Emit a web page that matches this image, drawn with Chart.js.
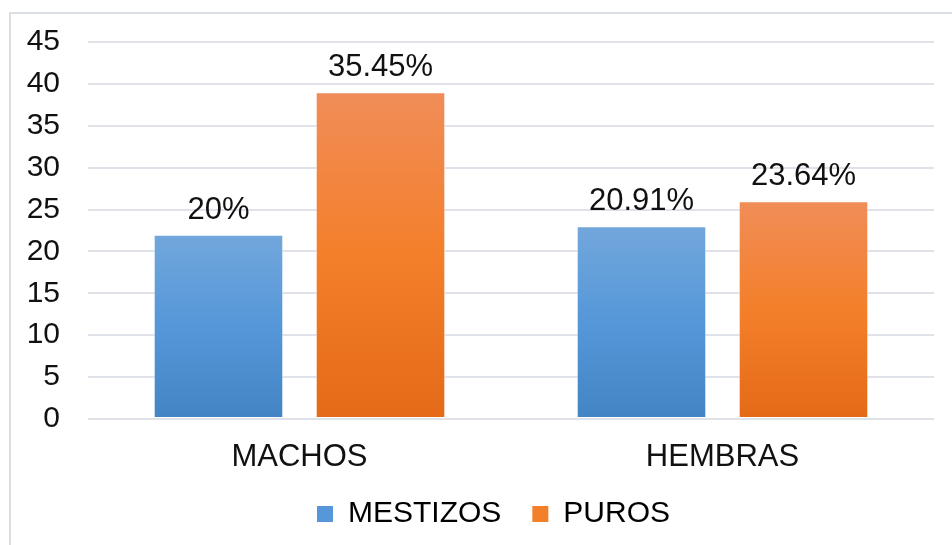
<!DOCTYPE html>
<html>
<head>
<meta charset="utf-8">
<script src="https://cdn.jsdelivr.net/npm/chart.js@4/dist/chart.umd.min.js"></script>
<style>
  html, body { margin: 0; padding: 0; background: #fff; }
  #wrap { position: relative; width: 952px; height: 545px; }
</style>
</head>
<body>
<div id="wrap"><canvas id="grafico" width="952" height="545"></canvas></div>
<script>
// Datos
const CATEGORIAS = ['MACHOS', 'HEMBRAS'];
const MESTIZOS = [22, 23];
const PUROS = [39, 26];
const ETIQ_MESTIZOS = ['20%', '20.91%'];
const ETIQ_PUROS = ['35.45%', '23.64%'];
const TICKS_Y = [0, 5, 10, 15, 20, 25, 30, 35, 40, 45];

const FUENTE = "'Liberation Sans', Arial, sans-serif";

// degradado vertical por barra (arriba claro, abajo más oscuro)
function degradado(paradas) {
    return (ctx) => {
        const chart = ctx.chart;
        if (!chart.chartArea || ctx.type !== 'data') return paradas[1];
        const y = chart.scales.y;
        const top = y.getPixelForValue(ctx.raw);
        const bottom = y.getPixelForValue(0);
        const g = chart.ctx.createLinearGradient(0, top, 0, bottom);
        g.addColorStop(0, paradas[0]);
        g.addColorStop(0.5, paradas[1]);
        g.addColorStop(1, paradas[2]);
        return g;
    };
}

// marco gris claro como en el original (borde superior e izquierdo)
const marco = {
    id: 'marco',
    beforeDraw(chart) {
        const c = chart.ctx;
        c.save();
        c.strokeStyle = '#dadee5';
        c.lineWidth = 2;
        c.beginPath();
        c.moveTo(10, chart.height);
        c.lineTo(10, 13);
        c.lineTo(chart.width, 13);
        c.stroke();
        c.restore();
    },
};

// En el original el marco sigue fuera de la imagen, así que la leyenda
// queda centrada algo más a la derecha que el canvas.
const correrLeyenda = {
    id: 'correrLeyenda',
    afterLayout(chart) {
        if (chart.legend) chart.legend.left += 53;
    },
};

// etiquetas de porcentaje encima de cada barra
const etiquetas = {
    id: 'etiquetas',
    afterDatasetsDraw(chart) {
        const c = chart.ctx;
        c.save();
        c.font = `31px ${FUENTE}`;
        c.fillStyle = '#111';
        c.textAlign = 'center';
        c.textBaseline = 'alphabetic';
        chart.data.datasets.forEach((ds, i) => {
            chart.getDatasetMeta(i).data.forEach((bar, j) => {
                c.fillText(ds.etiquetas[j], bar.x, bar.y - 16);
            });
        });
        c.restore();
    },
};

new Chart(document.getElementById('grafico'), {
    type: 'bar',
    data: {
        labels: CATEGORIAS,
        datasets: [
            {
                label: 'MESTIZOS',
                data: MESTIZOS,
                etiquetas: ETIQ_MESTIZOS,
                backgroundColor: degradado(['#72a7dc', '#5597d8', '#4384c4']),
                borderColor: 'rgba(255,255,255,0.6)',
                borderWidth: 1,
                borderSkipped: false,
            },
            {
                label: 'PUROS',
                data: PUROS,
                etiquetas: ETIQ_PUROS,
                backgroundColor: degradado(['#f08d58', '#f47f2a', '#e46a18']),
                borderColor: 'rgba(255,255,255,0.6)',
                borderWidth: 1,
                borderSkipped: false,
            },
        ],
    },
    options: {
        responsive: false,
        animation: false,
        devicePixelRatio: 1,
        categoryPercentage: 0.766,
        barPercentage: 0.8,
        layout: { padding: { top: 42, right: 18, bottom: 6, left: 0 } },
        plugins: {
            legend: {
                display: true,
                position: 'bottom',
                labels: {
                    boxWidth: 16,
                    boxHeight: 16,
                    padding: 31,
                    color: '#111',
                    font: { family: FUENTE, size: 30 },
                    generateLabels: (chart) => chart.data.datasets.map((ds, i) => ({
                        text: ds.label,
                        fillStyle: i === 0 ? '#5597d8' : '#f47f2a',
                        strokeStyle: 'transparent',
                        lineWidth: 0,
                        datasetIndex: i,
                    })),
                },
            },
            tooltip: { enabled: false },
        },
        scales: {
            x: {
                grid: { display: false },
                border: { display: false },
                ticks: { color: '#111', padding: 12, font: { family: FUENTE, size: 31 } },
                afterFit: (scale) => { scale.height = 49; },
            },
            y: {
                min: 0,
                max: 45,
                afterBuildTicks: (scale) => { scale.ticks = TICKS_Y.map(v => ({ value: v })); },
                afterFit: (scale) => {
                    scale.width = 88;
                    // que el padding de las etiquetas no empuje el área del gráfico
                    scale.paddingTop = 18;
                    scale.paddingBottom = 18;
                },
                grid: { color: '#dfe3e9', lineWidth: 2, drawTicks: false },
                border: { display: false },
                ticks: { color: '#111', padding: 28, font: { family: FUENTE, size: 30 } },
            },
        },
    },
    plugins: [marco, correrLeyenda, etiquetas],
});
</script>
</body>
</html>
